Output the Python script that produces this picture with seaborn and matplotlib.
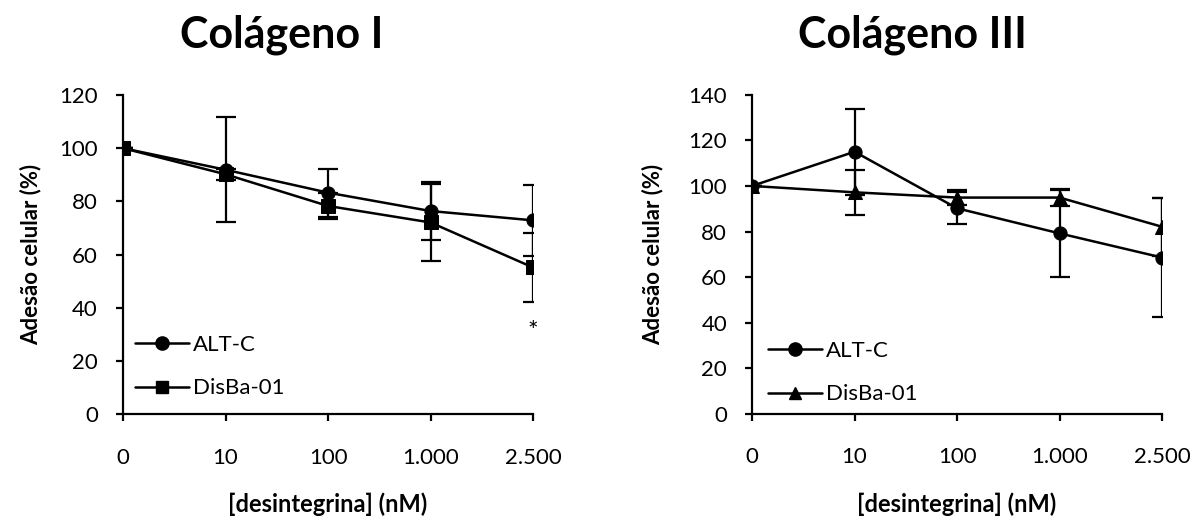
import matplotlib
matplotlib.use("Agg")
import matplotlib.pyplot as plt
from matplotlib.lines import Line2D
import seaborn as sns
import pandas as pd

sns.set_theme(style="white")
plt.rcParams['font.family'] = ['Lato', 'DejaVu Sans']
plt.rcParams['text.color'] = 'black'

categories = ["0", "10", "100", "1.000", "2.500"]

# Colágeno I
col1_altc = [100, 91.9, 83.3, 76.4, 72.9]
col1_altc_err = [0, 19.8, 9.0, 11.0, 13.4]
col1_disba = [100, 90.2, 78.3, 72.1, 55.2]
col1_disba_err = [0, 2.0, 5.0, 14.5, 13.0]

# Colágeno III
col3_altc = [100, 115.0, 90.2, 79.2, 68.6]
col3_altc_err = [0, 18.8, 7.0, 19.2, 26.0]
col3_disba = [100, 97.2, 94.9, 94.9, 82.1]
col3_disba_err = [0, 10.0, 3.3, 3.6, 12.8]

series_names = ["ALT-C", "DisBa-01"]
titles = ["Colágeno I", "Colágeno III"]
ylims = [120, 140]

fig = plt.figure(figsize=(12, 5.23), dpi=100)
ax1 = fig.add_axes([0.1025, 0.2075, 0.3417, 0.611])
ax2 = fig.add_axes([0.6267, 0.2084, 0.3417, 0.6105])

panels = [
    (ax1, col1_altc, col1_altc_err, col1_disba, col1_disba_err, "s", 8.5, 0.235, -0.2, 0.03, 0.05),
    (ax2, col3_altc, col3_altc_err, col3_disba, col3_disba_err, "^", 9.0, 0.76, -0.215, 0.04, 0.03),
]

for i, (ax, a, ae, d, de, m2, ms2, tx, ylx, legx, legy) in enumerate(panels):
    x = list(range(len(categories)))
    df = pd.DataFrame({
        "x": x * 2,
        "y": a + d,
        "serie": [series_names[0]] * len(x) + [series_names[1]] * len(x),
    })
    sns.lineplot(data=df, x="x", y="y", style="serie", markers={"ALT-C": "o", "DisBa-01": m2},
                 dashes=False, color="black", linewidth=1.8, markersize=9.5,
                 markeredgecolor="black", ax=ax, legend=False)
    ax.errorbar(x, a, yerr=ae, fmt="none", ecolor="black", elinewidth=1.6,
                capsize=7.5, capthick=1.6, zorder=1)
    ax.errorbar(x, d, yerr=de, fmt="none", ecolor="black", elinewidth=1.6,
                capsize=7.5, capthick=1.6, zorder=1)

    ax.set_xlim(0, len(categories) - 1)
    ax.set_ylim(0, ylims[i])
    ax.set_yticks(range(0, ylims[i] + 1, 20))
    ax.set_xticks(x)
    ax.set_xticklabels(categories)
    for s in ["top", "right"]:
        ax.spines[s].set_visible(False)
    for s in ["left", "bottom"]:
        ax.spines[s].set_linewidth(1.6)
        ax.spines[s].set_color("black")
    ax.tick_params(axis="both", which="major", direction="out", length=5, width=1.6,
                   color="black", labelsize=16, labelcolor="black", left=True, bottom=True)
    ax.tick_params(axis="x", pad=19)
    ax.tick_params(axis="y", pad=13)
    ax.set_xlabel("[desintegrina] (nM)", fontsize=17, fontweight="bold", color="black")
    ax.set_ylabel("Adesão celular (%)", fontsize=16, fontweight="bold", color="black")
    ax.xaxis.set_label_coords(0.5, -0.245)
    ax.yaxis.set_label_coords(ylx, 0.5)
    fig.text(tx, 0.91, titles[i], fontsize=31, fontweight="bold", ha="center",
             va="baseline", color="black")

    handles = [
        Line2D([], [], color="black", marker="o", markersize=9.5, linewidth=1.8),
        Line2D([], [], color="black", marker=m2, markersize=ms2, linewidth=1.8),
    ]
    ax.legend(handles, series_names, loc="lower left", bbox_to_anchor=(legx, legy),
              frameon=False, fontsize=16, labelspacing=1.05, handlelength=2.4,
              handletextpad=0.2, borderaxespad=0.0, borderpad=0.0)

ax1.text(4, 31.0, "*", ha="center", va="center", fontsize=18, color="black")

fig.savefig("out.png", dpi=100)
